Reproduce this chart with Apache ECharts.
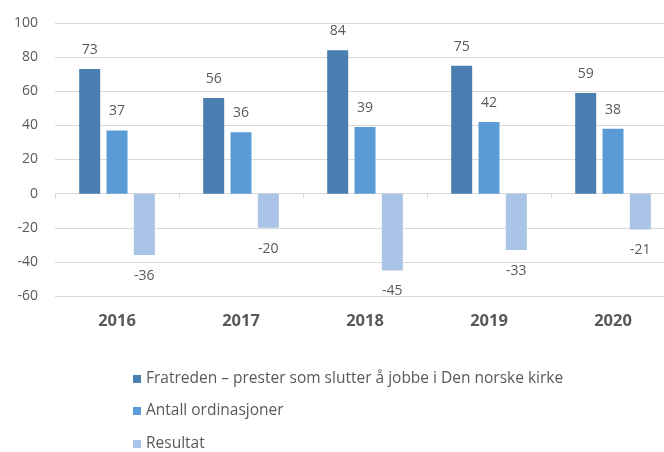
<!DOCTYPE html>
<html>
<head>
<meta charset="utf-8">
<script src="https://cdn.jsdelivr.net/npm/echarts@6/dist/echarts.min.js"></script>
<style>
  html, body { margin: 0; padding: 0; background: #fff; overflow: hidden; }
  /* the original's plot area runs past the right edge, so draw wider and clip */
  #chart { width: 675px; height: 452px; }
</style>
</head>
<body>
<div id="chart"></div>
<script>
// data
var years = ['2016', '2017', '2018', '2019', '2020'];
var fratreden = [73, 56, 84, 75, 59];
var ordinasjoner = [37, 36, 39, 42, 38];
var resultat = [-36, -20, -45, -33, -21];

var seriesNames = [
  'Fratreden \u2013 prester som slutter \u00e5 jobbe i Den norske kirke',
  'Antall ordinasjoner',
  'Resultat'
];
var colors = ['#4a7eb0', '#5b9bd5', '#a9c4e6'];

var textColor = '#595959';
var fontFam = '"Open Sans", "Noto Sans", sans-serif';

var chart = echarts.init(document.getElementById('chart'));

function barSeries(name, data, color) {
  var neg = data[0] < 0;
  return {
    name: name,
    type: 'bar',
    xAxisIndex: 0,
    data: data,
    barGap: '30%',
    barCategoryGap: '39%',
    itemStyle: { color: color },
    label: {
      show: true,
      position: neg ? 'bottom' : 'top',
      distance: neg ? 14 : 12,
      color: textColor,
      fontSize: 14,
      fontFamily: fontFam
    }
  };
}

// one legend per row, stacked like the original
function legendRow(name, top) {
  return {
    left: 133,
    top: top,
    padding: 0,
    itemWidth: 8,
    itemHeight: 8,
    icon: 'rect',
    textStyle: { color: textColor, fontSize: 15.5, fontFamily: fontFam },
    data: [name]
  };
}

var option = {
  animation: false,
  color: colors,
  grid: { left: 55, right: 0, top: 23, bottom: 156, containLabel: false },
  legend: [
    legendRow(seriesNames[0], 371),
    legendRow(seriesNames[1], 403),
    legendRow(seriesNames[2], 436)
  ],
  xAxis: [
    {
      type: 'category',
      data: years,
      axisLine: { show: false, onZero: false },
      axisTick: { show: false },
      axisLabel: {
        color: textColor,
        fontSize: 16.5,
        fontWeight: 'bold',
        fontFamily: fontFam,
        margin: 17
      }
    },
    {
      type: 'category',
      data: years,
      position: 'bottom',
      axisLine: { show: true, onZero: true, lineStyle: { color: '#d9d9d9' } },
      axisTick: { show: true, length: 5, lineStyle: { color: '#d9d9d9' } },
      axisLabel: { show: false }
    }
  ],
  yAxis: {
    type: 'value',
    min: -60,
    max: 100,
    interval: 20,
    axisLine: { show: false },
    axisTick: { show: false },
    splitLine: { lineStyle: { color: '#d9d9d9' } },
    axisLabel: { color: textColor, fontSize: 14, fontFamily: fontFam, margin: 17 }
  },
  series: [
    barSeries(seriesNames[0], fratreden, colors[0]),
    barSeries(seriesNames[1], ordinasjoner, colors[1]),
    barSeries(seriesNames[2], resultat, colors[2])
  ]
};

chart.setOption(option);
</script>
</body>
</html>
